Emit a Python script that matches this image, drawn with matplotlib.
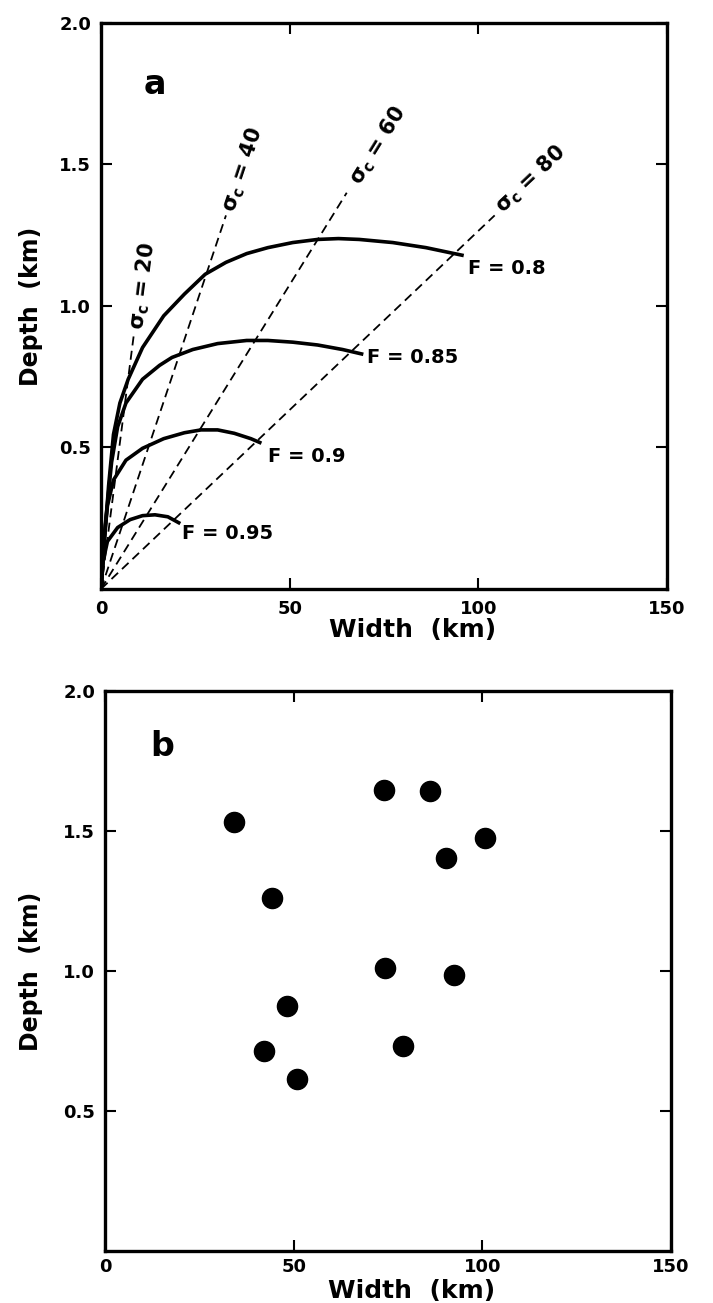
import numpy as np
import matplotlib
matplotlib.use("Agg")
import matplotlib.pyplot as plt

plt.rcParams["font.family"] = "DejaVu Sans"
plt.rcParams["font.weight"] = "bold"
plt.rcParams["mathtext.fontset"] = "custom"
plt.rcParams["mathtext.it"] = "DejaVu Sans:bold"
plt.rcParams["mathtext.rm"] = "DejaVu Sans:bold"

# ─── Panel a: F curves (width km, depth km) ──────────────────────────────────
F_LABELS = ["F = 0.8", "F = 0.85", "F = 0.9", "F = 0.95"]
F08_W = [0, 0.9, 2.0, 3.3, 5.0, 7.2, 11.0, 16.6, 22.1, 27.6, 33.1, 38.6, 44.2,
         50.8, 57.4, 62.9, 68.4, 77.3, 86.1, 96.1]
F08_D = [0, 0.168, 0.364, 0.546, 0.657, 0.741, 0.853, 0.965, 1.042, 1.112,
         1.154, 1.185, 1.206, 1.224, 1.235, 1.238, 1.235, 1.224, 1.206, 1.178]
F085_W = [0, 1.1, 2.8, 4.4, 6.6, 11.0, 15.5, 18.8, 24.3, 30.9, 38.6, 44.2,
          50.8, 57.4, 64.0, 69.5]
F085_D = [0, 0.224, 0.448, 0.573, 0.657, 0.741, 0.790, 0.818, 0.846, 0.867,
          0.878, 0.878, 0.872, 0.862, 0.846, 0.829]
F09_W = [0, 0.55, 1.7, 3.3, 6.6, 11.0, 16.6, 22.1, 26.5, 30.9, 35.3, 39.7, 42.5]
F09_D = [0, 0.14, 0.294, 0.385, 0.455, 0.497, 0.531, 0.552, 0.562, 0.562,
         0.550, 0.531, 0.515]
F095_W = [0, 0.55, 1.7, 4.4, 7.7, 11.0, 14.3, 17.7, 21.0]
F095_D = [0, 0.098, 0.168, 0.217, 0.245, 0.259, 0.262, 0.255, 0.231]
F_LABEL_POS = [(97.1, 1.133), (70.4, 0.818), (44.2, 0.469), (21.5, 0.196)]

# dashed sigma_c lines from origin to end point
SIGMA_C = [20, 40, 60, 80]
SIGMA_END_W = [8.8, 33.1, 65.1, 104.3]
SIGMA_END_D = [0.91, 1.32, 1.40, 1.32]
SIGMA_LABEL_POS = [(11.0, 1.07), (37.6, 1.48), (73.4, 1.566), (113.7, 1.448)]

# ─── Panel b: observed width / depth ─────────────────────────────────────────
OBS_W = [74.0, 86.2, 34.1, 100.6, 90.3, 44.3, 74.1, 92.4, 48.3, 79.0, 42.1, 50.9]
OBS_D = [1.645, 1.642, 1.533, 1.475, 1.404, 1.259, 1.009, 0.986, 0.874, 0.733,
         0.713, 0.613]

X_TICKS = [0, 50, 100, 150]
Y_TICKS = [0.5, 1.0, 1.5, 2.0]
TICK_FS = 13


def style_axes(ax, xlab_x, xlab_y, ylab_x, xpad):
    ax.set_xlim(0, 150)
    ax.set_ylim(0, 2.0)
    ax.set_xticks(X_TICKS)
    ax.set_yticks(Y_TICKS)
    ax.set_yticklabels([f"{v:.1f}" for v in Y_TICKS])
    ax.tick_params(direction="in", top=True, right=True, length=8, width=1.5,
                   labelsize=TICK_FS)
    ax.tick_params(axis="x", pad=xpad)
    ax.tick_params(axis="y", pad=7)
    for lbl in ax.get_xticklabels() + ax.get_yticklabels():
        lbl.set_fontweight("bold")
    for s in ax.spines.values():
        s.set_linewidth(2.4)
    ax.set_xlabel("Width  (km)", fontsize=18, fontweight="bold")
    ax.set_ylabel("Depth  (km)", fontsize=17, fontweight="bold")
    ax.xaxis.set_label_coords(xlab_x, xlab_y)
    ax.yaxis.set_label_coords(ylab_x, 0.5)


fig = plt.figure(figsize=(7.13, 13.03), dpi=100)
ax_a = fig.add_axes([0.1417, 0.548, 0.794, 0.4344])
ax_b = fig.add_axes([0.1473, 0.0399, 0.794, 0.4298])

# panel a
for sc, ew, ed, (lx, ly) in zip(SIGMA_C, SIGMA_END_W, SIGMA_END_D, SIGMA_LABEL_POS):
    ax_a.plot([0, ew], [0, ed], color="black", lw=1.3, ls=(0, (5, 3)))
    ang = np.degrees(np.arctan2(ed, ew))
    ax_a.text(lx, ly, rf"$\sigma_c$ = {sc}", fontsize=15, fontweight="bold",
              rotation=ang, transform_rotates_text=True, rotation_mode="anchor",
              ha="center", va="center")

curves = [(F08_W, F08_D), (F085_W, F085_D), (F09_W, F09_D), (F095_W, F095_D)]
for (w, d), lab, (lx, ly) in zip(curves, F_LABELS, F_LABEL_POS):
    ax_a.plot(w, d, color="black", lw=2.6, solid_capstyle="butt")
    ax_a.text(lx, ly, lab, fontsize=14, fontweight="bold", ha="left", va="center")

ax_a.text(14.3, 1.783, "a", fontsize=24, fontweight="bold", ha="center", va="center")
style_axes(ax_a, 0.55, -0.052, -0.102, 8)

# panel b
ax_b.plot(OBS_W, OBS_D, "o", color="black", markersize=14.5, ls="none")
ax_b.text(15.2, 1.80, "b", fontsize=24, fontweight="bold", ha="center", va="center")
style_axes(ax_b, 0.542, -0.05, -0.11, 5)

fig.savefig("out.png", dpi=100)
